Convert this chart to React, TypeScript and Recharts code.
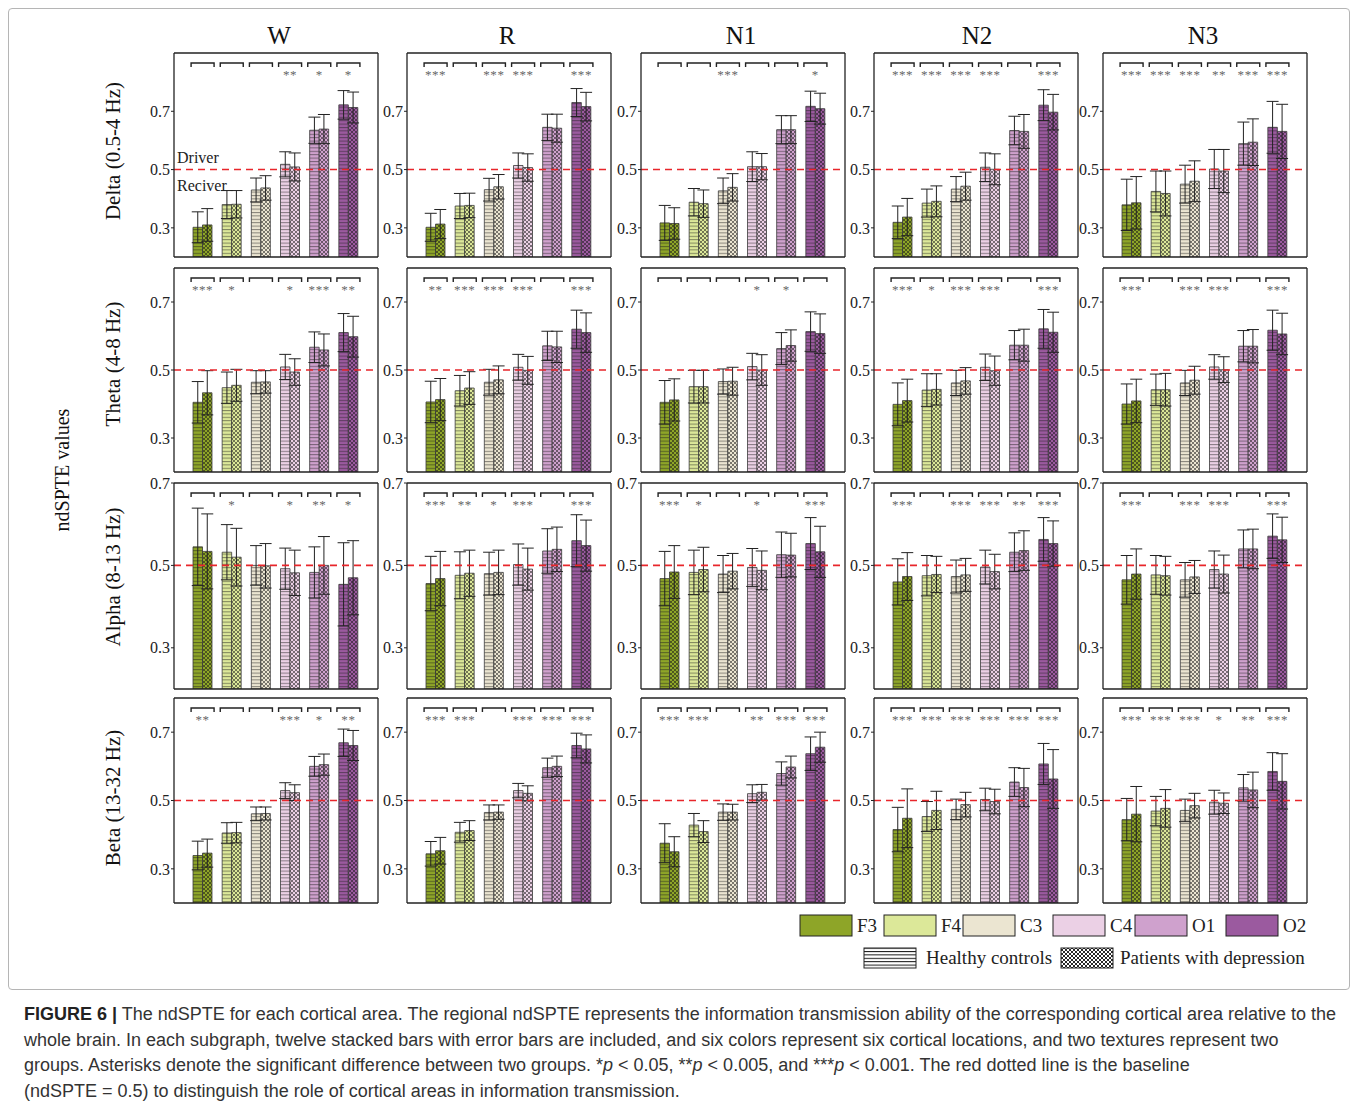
import React from 'react';
import { BarChart, Bar, XAxis, YAxis, ReferenceLine, ErrorBar, Cell } from 'recharts';

const SERIF = '"Liberation Serif", "Times New Roman", serif';
const SANS = '"Liberation Sans", Arial, sans-serif';

const LOCS = ['F3', 'F4', 'C3', 'C4', 'O1', 'O2'];
const STAGES = ['W', 'R', 'N1', 'N2', 'N3'];
const BANDS = ['Delta (0.5-4 Hz)', 'Theta (4-8 Hz)', 'Alpha (8-13 Hz)', 'Beta (13-32 Hz)'];
const LOC_COLORS = ['#8ea528', '#dce899', '#ebe5d1', '#ebd0e5', '#cfa1cd', '#9b5a9f'];
const Y_DOMAINS = [[0.2, 0.9], [0.2, 0.8], [0.2, 0.7], [0.2, 0.8]];
const Y_TICKS = [0.3, 0.5, 0.7];
const BASELINE = 0.5;

// ---- Delta ----
const deltaHC = [
  [0.302, 0.380, 0.430, 0.518, 0.635, 0.722],
  [0.302, 0.375, 0.431, 0.514, 0.645, 0.730],
  [0.317, 0.388, 0.427, 0.510, 0.637, 0.717],
  [0.319, 0.385, 0.433, 0.508, 0.634, 0.721],
  [0.379, 0.425, 0.450, 0.502, 0.589, 0.645],
];
const deltaMDD = [
  [0.310, 0.381, 0.437, 0.509, 0.639, 0.713],
  [0.313, 0.377, 0.441, 0.507, 0.642, 0.716],
  [0.315, 0.383, 0.439, 0.510, 0.637, 0.709],
  [0.337, 0.391, 0.443, 0.501, 0.631, 0.697],
  [0.386, 0.418, 0.460, 0.495, 0.594, 0.631],
];
const deltaErrHC = [
  [0.053, 0.048, 0.041, 0.043, 0.045, 0.049],
  [0.048, 0.043, 0.039, 0.043, 0.045, 0.048],
  [0.060, 0.047, 0.044, 0.051, 0.048, 0.052],
  [0.056, 0.048, 0.043, 0.049, 0.049, 0.053],
  [0.088, 0.070, 0.065, 0.067, 0.074, 0.089],
];
const deltaErrMDD = [
  [0.056, 0.047, 0.042, 0.048, 0.050, 0.053],
  [0.050, 0.042, 0.042, 0.047, 0.048, 0.049],
  [0.054, 0.047, 0.047, 0.045, 0.048, 0.053],
  [0.064, 0.053, 0.048, 0.053, 0.058, 0.061],
  [0.090, 0.077, 0.070, 0.074, 0.080, 0.093],
];
const deltaSig = [
  ['', '', '', '**', '*', '*'],
  ['***', '', '***', '***', '', '***'],
  ['', '', '***', '', '', '*'],
  ['***', '***', '***', '***', '', '***'],
  ['***', '***', '***', '**', '***', '***'],
];

// ---- Theta ----
const thetaHC = [
  [0.405, 0.448, 0.464, 0.509, 0.567, 0.610],
  [0.406, 0.439, 0.464, 0.508, 0.571, 0.620],
  [0.405, 0.451, 0.466, 0.510, 0.563, 0.613],
  [0.399, 0.441, 0.462, 0.508, 0.573, 0.621],
  [0.400, 0.442, 0.462, 0.509, 0.570, 0.617],
];
const thetaMDD = [
  [0.433, 0.455, 0.465, 0.494, 0.559, 0.598],
  [0.413, 0.447, 0.471, 0.499, 0.568, 0.610],
  [0.412, 0.451, 0.467, 0.500, 0.572, 0.607],
  [0.410, 0.443, 0.468, 0.498, 0.573, 0.611],
  [0.409, 0.442, 0.470, 0.501, 0.570, 0.606],
];
const thetaErrHC = [
  [0.061, 0.046, 0.034, 0.037, 0.045, 0.056],
  [0.061, 0.045, 0.038, 0.038, 0.043, 0.056],
  [0.064, 0.048, 0.037, 0.039, 0.047, 0.058],
  [0.063, 0.048, 0.037, 0.039, 0.043, 0.057],
  [0.059, 0.046, 0.037, 0.036, 0.046, 0.059],
];
const thetaErrMDD = [
  [0.065, 0.047, 0.033, 0.039, 0.047, 0.060],
  [0.062, 0.048, 0.041, 0.041, 0.046, 0.058],
  [0.062, 0.048, 0.041, 0.045, 0.046, 0.058],
  [0.063, 0.046, 0.039, 0.043, 0.047, 0.059],
  [0.064, 0.048, 0.041, 0.038, 0.049, 0.061],
];
const thetaSig = [
  ['***', '*', '', '*', '***', '**'],
  ['**', '***', '***', '***', '', '***'],
  ['', '', '', '*', '*', ''],
  ['***', '*', '***', '***', '', '***'],
  ['***', '', '***', '***', '', '***'],
];

// ---- Alpha ----
const alphaHC = [
  [0.545, 0.532, 0.500, 0.492, 0.483, 0.454],
  [0.456, 0.476, 0.480, 0.502, 0.535, 0.560],
  [0.468, 0.483, 0.479, 0.495, 0.526, 0.553],
  [0.460, 0.475, 0.473, 0.496, 0.532, 0.563],
  [0.465, 0.477, 0.465, 0.490, 0.540, 0.571],
];
const alphaMDD = [
  [0.534, 0.520, 0.499, 0.482, 0.500, 0.470],
  [0.468, 0.481, 0.483, 0.491, 0.539, 0.548],
  [0.484, 0.490, 0.486, 0.488, 0.525, 0.533],
  [0.473, 0.478, 0.477, 0.485, 0.536, 0.553],
  [0.479, 0.475, 0.472, 0.479, 0.540, 0.562],
];
const alphaErrHC = [
  [0.094, 0.067, 0.048, 0.050, 0.062, 0.101],
  [0.066, 0.057, 0.052, 0.050, 0.054, 0.063],
  [0.066, 0.054, 0.045, 0.046, 0.055, 0.063],
  [0.056, 0.049, 0.040, 0.041, 0.047, 0.053],
  [0.059, 0.047, 0.042, 0.045, 0.046, 0.054],
];
const alphaErrMDD = [
  [0.091, 0.070, 0.054, 0.055, 0.070, 0.090],
  [0.066, 0.056, 0.054, 0.051, 0.054, 0.062],
  [0.064, 0.054, 0.043, 0.047, 0.053, 0.062],
  [0.058, 0.044, 0.040, 0.042, 0.048, 0.055],
  [0.061, 0.047, 0.040, 0.046, 0.048, 0.055],
];
const alphaSig = [
  ['', '*', '', '*', '**', '*'],
  ['***', '**', '*', '***', '', '***'],
  ['***', '*', '', '*', '', '***'],
  ['***', '', '***', '***', '**', '***'],
  ['***', '', '***', '***', '', '***'],
];

// ---- Beta ----
const betaHC = [
  [0.339, 0.405, 0.461, 0.529, 0.600, 0.669],
  [0.344, 0.407, 0.465, 0.529, 0.596, 0.661],
  [0.375, 0.428, 0.466, 0.520, 0.579, 0.637],
  [0.415, 0.453, 0.474, 0.503, 0.554, 0.607],
  [0.444, 0.469, 0.471, 0.495, 0.537, 0.585],
];
const betaMDD = [
  [0.346, 0.406, 0.462, 0.523, 0.605, 0.661],
  [0.353, 0.412, 0.466, 0.521, 0.600, 0.651],
  [0.350, 0.409, 0.466, 0.524, 0.598, 0.656],
  [0.448, 0.471, 0.488, 0.497, 0.538, 0.563],
  [0.460, 0.477, 0.485, 0.492, 0.531, 0.556],
];
const betaErrHC = [
  [0.042, 0.030, 0.020, 0.023, 0.029, 0.040],
  [0.036, 0.029, 0.022, 0.021, 0.028, 0.036],
  [0.057, 0.034, 0.024, 0.026, 0.034, 0.049],
  [0.065, 0.044, 0.030, 0.033, 0.042, 0.060],
  [0.062, 0.043, 0.033, 0.035, 0.039, 0.055],
];
const betaErrMDD = [
  [0.041, 0.030, 0.019, 0.023, 0.031, 0.044],
  [0.039, 0.029, 0.021, 0.022, 0.030, 0.041],
  [0.044, 0.032, 0.023, 0.023, 0.032, 0.044],
  [0.086, 0.056, 0.036, 0.036, 0.056, 0.086],
  [0.081, 0.055, 0.036, 0.030, 0.052, 0.081],
];
const betaSig = [
  ['**', '', '', '***', '*', '**'],
  ['***', '***', '', '***', '***', '***'],
  ['***', '***', '', '**', '***', '***'],
  ['***', '***', '***', '***', '***', '***'],
  ['***', '***', '***', '*', '**', '***'],
];

const HC = [deltaHC, thetaHC, alphaHC, betaHC];
const MDD = [deltaMDD, thetaMDD, alphaMDD, betaMDD];
const ERR_HC = [deltaErrHC, thetaErrHC, alphaErrHC, betaErrHC];
const ERR_MDD = [deltaErrMDD, thetaErrMDD, alphaErrMDD, betaErrMDD];
const SIG = [deltaSig, thetaSig, alphaSig, betaSig];

// ---- layout (styling only) ----
const COL_X = [174, 407, 641, 874, 1103];
const ROW_Y = [53, 268, 483, 698];
const ROW_H = [203, 203, 205, 204];
const BOX_W = 203;
const YW = 40;
const MT = 10;

function BracketTick(props: any) {
  const { x, y, payload, sig } = props;
  const idx = payload && payload.index != null ? payload.index : LOCS.indexOf(payload?.value);
  const s = sig[idx] || '';
  const hw = 11.5;
  return (
    <g>
      <path
        d={`M${x - hw},${y + 14} L${x - hw},${y + 10} L${x + hw},${y + 10} L${x + hw},${y + 14}`}
        fill="none"
        stroke="#222"
        strokeWidth={1.4}
      />
      {s && (
        <text x={x} y={y + 26} textAnchor="middle" fontSize={13} fill="#666" fontFamily={SERIF} letterSpacing={0.6}>
          {s}
        </text>
      )}
    </g>
  );
}

function DriverLabel(props: any) {
  const vb = props.viewBox || {};
  const x = (vb.x || 0) + 3;
  const y = vb.y || 0;
  return (
    <g>
      <text x={x} y={y - 7} fontSize={16} fill="#222" fontFamily={SERIF}>Driver</text>
      <text x={x} y={y + 21} fontSize={16} fill="#222" fontFamily={SERIF}>Reciver</text>
    </g>
  );
}

function Panel({ b, s }: { b: number; s: number }) {
  const data = LOCS.map((loc, i) => ({
    loc,
    hc: HC[b][s][i],
    mdd: MDD[b][s][i],
    ehc: ERR_HC[b][s][i],
    emdd: ERR_MDD[b][s][i],
  }));
  const dom = Y_DOMAINS[b];
  const sig = SIG[b][s];
  const pad = { left: 14, right: 15 };
  const line = { stroke: '#222', strokeWidth: 1.3 };
  return (
    <div style={{ position: 'absolute', left: COL_X[s] - YW, top: ROW_Y[b] - MT - 1 }}>
      <BarChart
        width={YW + BOX_W + 2}
        height={MT + ROW_H[b] + 3}
        data={data}
        margin={{ top: MT, right: 0, bottom: 0, left: 0 }}
        barGap={0}
        barSize={9.5}
      >
        <XAxis dataKey="loc" height={1} tick={false} tickLine={false} axisLine={line} padding={pad} />
        <XAxis
          xAxisId="top"
          orientation="top"
          dataKey="loc"
          height={1}
          tickLine={false}
          tickSize={0}
          tickMargin={0}
          interval={0}
          axisLine={line}
          padding={pad}
          tick={<BracketTick sig={sig} />}
        />
        <YAxis
          width={YW}
          type="number"
          domain={dom}
          allowDataOverflow
          ticks={Y_TICKS}
          interval={0}
          tickFormatter={(v: number) => v.toFixed(1)}
          tick={{ fontSize: 16, fill: '#222', fontFamily: SERIF }}
          tickSize={3}
          tickMargin={1}
          axisLine={line}
          tickLine={{ stroke: '#222' }}
        />
        <YAxis
          yAxisId="right"
          orientation="right"
          width={1}
          type="number"
          domain={dom}
          allowDataOverflow
          tick={false}
          tickLine={false}
          axisLine={line}
        />
        <Bar dataKey="hc" isAnimationActive={false} stroke="#3a3a3a" strokeWidth={0.8}>
          {data.map((d, i) => (
            <Cell key={d.loc} fill={`url(#hc-pat-${i})`} />
          ))}
          <ErrorBar dataKey="ehc" width={6} stroke="#222" strokeWidth={1} />
        </Bar>
        <Bar dataKey="mdd" isAnimationActive={false} stroke="#3a3a3a" strokeWidth={0.8}>
          {data.map((d, i) => (
            <Cell key={d.loc} fill={`url(#mdd-pat-${i})`} />
          ))}
          <ErrorBar dataKey="emdd" width={6} stroke="#222" strokeWidth={1} />
        </Bar>
        <ReferenceLine
          y={BASELINE}
          stroke="#e8262b"
          strokeWidth={1.6}
          strokeDasharray="7 5"
          label={b === 0 && s === 0 ? <DriverLabel /> : undefined}
        />
      </BarChart>
    </div>
  );
}

function Patterns() {
  return (
    <svg width={0} height={0} style={{ position: 'absolute' }}>
      <defs>
        {LOC_COLORS.map((c, i) => (
          <pattern key={`h${i}`} id={`hc-pat-${i}`} patternUnits="userSpaceOnUse" width={6} height={3.4}>
            <rect width={6} height={3.4} fill={c} />
            <line x1={0} y1={0.5} x2={6} y2={0.5} stroke="rgba(30,30,30,0.5)" strokeWidth={1} />
          </pattern>
        ))}
        {LOC_COLORS.map((c, i) => (
          <pattern key={`m${i}`} id={`mdd-pat-${i}`} patternUnits="userSpaceOnUse" width={4} height={4}>
            <rect width={4} height={4} fill={c} />
            <path d="M0,0 L4,4 M4,0 L0,4" stroke="rgba(20,20,20,0.6)" strokeWidth={0.9} />
          </pattern>
        ))}
        <pattern id="lg-hc" patternUnits="userSpaceOnUse" width={6} height={3.4}>
          <rect width={6} height={3.4} fill="#fff" />
          <line x1={0} y1={0.5} x2={6} y2={0.5} stroke="#111" strokeWidth={1} />
        </pattern>
        <pattern id="lg-mdd" patternUnits="userSpaceOnUse" width={4} height={4}>
          <rect width={4} height={4} fill="#fff" />
          <path d="M0,0 L4,4 M4,0 L0,4" stroke="#111" strokeWidth={0.9} />
        </pattern>
      </defs>
    </svg>
  );
}

const LEGEND_X = [800, 884, 963, 1053, 1135, 1226];

function Legend() {
  return (
    <svg width={1358} height={80} style={{ position: 'absolute', left: 0, top: 900 }}>
      {LOCS.map((loc, i) => (
        <g key={loc}>
          <rect x={LEGEND_X[i]} y={15} width={52} height={21} fill={LOC_COLORS[i]} stroke="#222" strokeWidth={1} />
          <text x={LEGEND_X[i] + 57} y={32} fontSize={19} fill="#222" fontFamily={SERIF}>{loc}</text>
        </g>
      ))}
      <rect x={864} y={48} width={52} height={20} fill="url(#lg-hc)" stroke="#222" strokeWidth={1} />
      <text x={926} y={64} fontSize={19} fill="#222" fontFamily={SERIF}>Healthy controls</text>
      <rect x={1061} y={48} width={52} height={20} fill="url(#lg-mdd)" stroke="#222" strokeWidth={1} />
      <text x={1120} y={64} fontSize={19} fill="#222" fontFamily={SERIF}>Patients with depression</text>
    </svg>
  );
}

const TITLE_X = [279, 507, 741, 977, 1203];
const ROW_LABEL_Y = [151, 364, 577, 798];

export default function App() {
  return (
    <div style={{ position: 'absolute', left: 0, top: 0, width: 1358, height: 1107, background: '#fff' }}>
      <Patterns />
      <div
        style={{
          position: 'absolute',
          left: 8,
          top: 8,
          width: 1340,
          height: 980,
          border: '1px solid #b5b5b5',
          borderRadius: 4,
        }}
      />
      <svg width={1358} height={1000} style={{ position: 'absolute', left: 0, top: 0 }}>
        {STAGES.map((st, i) => (
          <text key={st} x={TITLE_X[i]} y={44} textAnchor="middle" fontSize={25} fill="#111" fontFamily={SERIF}>
            {st}
          </text>
        ))}
        {BANDS.map((bn, i) => (
          <text
            key={bn}
            transform={`translate(120, ${ROW_LABEL_Y[i]}) rotate(-90)`}
            textAnchor="middle"
            fontSize={21}
            fill="#111"
            fontFamily={SERIF}
          >
            {bn}
          </text>
        ))}
        <text transform="translate(69, 470) rotate(-90)" textAnchor="middle" fontSize={20} fill="#111" fontFamily={SERIF}>
          ndSPTE values
        </text>
      </svg>
      {BANDS.map((_, b) => STAGES.map((_, s) => <Panel key={`${b}-${s}`} b={b} s={s} />))}
      <Legend />
      <div
        style={{
          position: 'absolute',
          left: 24,
          top: 1002,
          fontFamily: SANS,
          fontSize: 18,
          lineHeight: '25.6px',
          color: '#333',
          whiteSpace: 'nowrap',
        }}
      >
        <b style={{ color: '#222' }}>FIGURE 6 |</b> The ndSPTE for each cortical area. The regional ndSPTE represents the information transmission ability of the corresponding cortical area relative to the
        <br />
        whole brain. In each subgraph, twelve stacked bars with error bars are included, and six colors represent six cortical locations, and two textures represent two
        <br />
        groups. Asterisks denote the significant difference between two groups. *<i>p</i> &lt; 0.05, **<i>p</i> &lt; 0.005, and ***<i>p</i> &lt; 0.001. The red dotted line is the baseline
        <br />
        (ndSPTE = 0.5) to distinguish the role of cortical areas in information transmission.
      </div>
    </div>
  );
}
